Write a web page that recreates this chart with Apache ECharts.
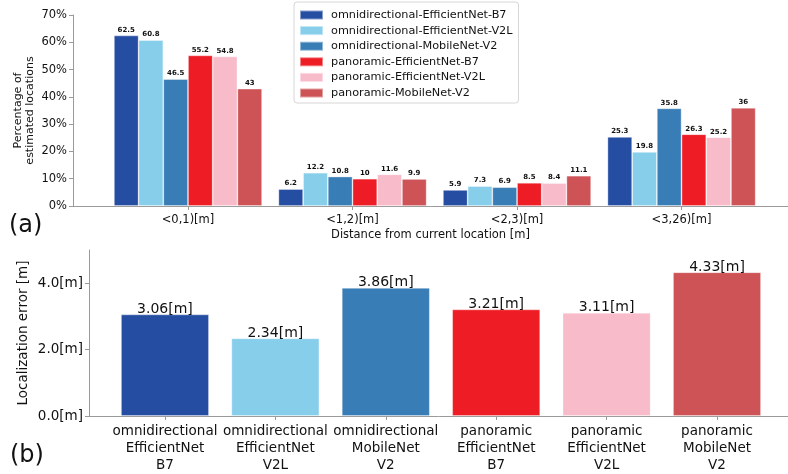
<!DOCTYPE html>
<html>
<head>
<meta charset="utf-8">
<script src="https://cdn.jsdelivr.net/npm/echarts@6/dist/echarts.min.js"></script>
<style>
  html, body { margin: 0; padding: 0; background: #fff; }
  #chart { width: 788px; height: 474px; }
</style>
</head>
<body>
<div id="chart"></div>
<script>
// Distance bins for panel (a)
const distanceBins = ['<0,1)[m]', '<1,2)[m]', '<2,3)[m]', '<3,26)[m]'];

// Model names (legend) and colours
const modelNames = [
  'omnidirectional-EfficientNet-B7',
  'omnidirectional-EfficientNet-V2L',
  'omnidirectional-MobileNet-V2',
  'panoramic-EfficientNet-B7',
  'panoramic-EfficientNet-V2L',
  'panoramic-MobileNet-V2'
];
const modelColors = ['#254ea2', '#87ceeb', '#387db5', '#ed1c25', '#f7bbc9', '#cd5357'];

// Percentage of estimated locations per distance bin
const omniB7   = [62.5, 6.2, 5.9, 25.3];
const omniV2L  = [60.8, 12.2, 7.3, 19.8];
const omniMob  = [46.5, 10.8, 6.9, 35.8];
const panoB7   = [55.2, 10, 8.5, 26.3];
const panoV2L  = [54.8, 11.6, 8.4, 25.2];
const panoMob  = [43, 9.9, 11.1, 36];
const percentSeries = [omniB7, omniV2L, omniMob, panoB7, panoV2L, panoMob];

// Panel (b): mean localization error per model
const errorLabels = [
  'omnidirectional\nEfficientNet\nB7',
  'omnidirectional\nEfficientNet\nV2L',
  'omnidirectional\nMobileNet\nV2',
  'panoramic\nEfficientNet\nB7',
  'panoramic\nEfficientNet\nV2L',
  'panoramic\nMobileNet\nV2'
];
const errorValues = [3.06, 2.34, 3.86, 3.21, 3.11, 4.33];

// Tick values
const percentTicks = [0, 10, 20, 30, 40, 50, 60, 70];
const errorTicks = [0, 2, 4];

const FONT = 'DejaVu Sans';
const AXIS_GRAY = '#9a9a9a';

const chart = echarts.init(document.getElementById('chart'), null, { renderer: 'canvas' });

const topSeries = percentSeries.map((vals, k) => ({
  name: modelNames[k],
  type: 'bar',
  xAxisIndex: 0,
  yAxisIndex: 0,
  barWidth: 24.7,
  barGap: '0%',
  data: vals.map((v, i) => [i, v]),
  itemStyle: { color: modelColors[k], borderColor: 'rgba(255,255,255,0.45)', borderWidth: 0.8 },
  label: {
    show: true,
    position: 'top',
    distance: 2,
    formatter: p => String(p.value[1]),
    fontFamily: FONT,
    fontSize: 7,
    fontWeight: 'bold',
    color: '#111'
  },
  emphasis: { disabled: true },
  animation: false
}));

const bottomSeries = {
  name: 'error',
  type: 'bar',
  xAxisIndex: 1,
  yAxisIndex: 1,
  barWidth: 88,
  data: errorValues.map((v, i) => ({
    value: [i, v],
    itemStyle: { color: modelColors[i], borderColor: 'rgba(255,255,255,0.45)', borderWidth: 0.8 }
  })),
  label: {
    show: true,
    position: 'top',
    distance: -2,
    formatter: p => p.value[1].toFixed(2) + '[m]',
    fontFamily: FONT,
    fontSize: 14,
    color: '#111'
  },
  emphasis: { disabled: true },
  animation: false
};

const option = {
  backgroundColor: '#fff',
  animation: false,
  grid: [
    { left: 73, top: 15, right: 0, bottom: 268, containLabel: false },
    { left: 89, top: 250, right: 0, bottom: 54, containLabel: false }
  ],
  legend: {
    data: modelNames,
    orient: 'vertical',
    left: 294,
    top: 2,
    padding: [6, 6, 3, 5],
    itemWidth: 23,
    itemHeight: 9,
    itemGap: 1.6,
    backgroundColor: '#fff',
    borderColor: '#d6d6d6',
    borderWidth: 1,
    borderRadius: 3,
    icon: 'rect',
    selectedMode: false,
    textStyle: { fontFamily: FONT, fontSize: 11.25, color: '#111', lineHeight: 14, padding: [0, 0, 0, 3] }
  },
  xAxis: [
    {
      type: 'value',
      gridIndex: 0,
      min: -0.699,
      max: 3.647,
      splitLine: { show: false },
      axisLine: { show: true, onZero: false, lineStyle: { color: AXIS_GRAY, width: 1 } },
      axisTick: { show: true, length: 4, customValues: [0, 1, 2, 3], lineStyle: { color: AXIS_GRAY } },
      axisLabel: {
        customValues: [0, 1, 2, 3],
        formatter: v => distanceBins[Math.round(v)] || '',
        fontFamily: FONT, fontSize: 11.5, color: '#111', margin: 8
      },
      name: 'Distance from current location [m]',
      nameLocation: 'middle',
      nameGap: 23,
      nameMoveOverlap: false,
      nameTextStyle: { fontFamily: FONT, fontSize: 11.5, color: '#111' }
    },
    {
      type: 'value',
      gridIndex: 1,
      min: -0.688,
      max: 5.643,
      splitLine: { show: false },
      axisLine: { show: true, onZero: false, lineStyle: { color: AXIS_GRAY, width: 1 } },
      axisTick: { show: true, length: 4, customValues: [0, 1, 2, 3, 4, 5], lineStyle: { color: AXIS_GRAY } },
      axisLabel: {
        customValues: [0, 1, 2, 3, 4, 5],
        formatter: v => errorLabels[Math.round(v)] || '',
        fontFamily: FONT, fontSize: 13.5, lineHeight: 17, color: '#111', margin: 7
      }
    }
  ],
  yAxis: [
    {
      type: 'value',
      gridIndex: 0,
      min: 0,
      max: 70,
      interval: 10,
      splitLine: { show: false },
      axisLine: { show: true, onZero: false, lineStyle: { color: AXIS_GRAY, width: 1 } },
      axisTick: { show: true, length: 4, customValues: percentTicks, lineStyle: { color: AXIS_GRAY } },
      axisLabel: {
        customValues: percentTicks,
        formatter: v => v + '%',
        fontFamily: FONT, fontSize: 11.5, color: '#111', margin: 6
      },
      name: 'Percentage of\nestimated locations',
      nameLocation: 'middle',
      nameRotate: 90,
      nameGap: 37,
      nameMoveOverlap: false,
      nameTextStyle: { fontFamily: FONT, fontSize: 11, lineHeight: 12, color: '#111' }
    },
    {
      type: 'value',
      gridIndex: 1,
      min: 0,
      max: 5,
      splitLine: { show: false },
      axisLine: { show: true, onZero: false, lineStyle: { color: AXIS_GRAY, width: 1 } },
      axisTick: { show: true, length: 4, customValues: errorTicks, lineStyle: { color: AXIS_GRAY } },
      axisLabel: {
        customValues: errorTicks,
        formatter: v => v.toFixed(1) + '[m]',
        fontFamily: FONT, fontSize: 13.5, color: '#111', margin: 6
      },
      name: 'Localization error [m]',
      nameLocation: 'middle',
      nameRotate: 90,
      nameGap: 59,
      nameMoveOverlap: false,
      nameTextStyle: { fontFamily: FONT, fontSize: 13.5, color: '#111' }
    }
  ],
  graphic: [
    { type: 'text', left: 9, top: 214, style: { text: '(a)', font: '24px "DejaVu Sans"', fill: '#111' } },
    { type: 'text', left: 10, top: 444, style: { text: '(b)', font: '24px "DejaVu Sans"', fill: '#111' } }
  ],
  series: topSeries.concat([bottomSeries])
};

chart.setOption(option);
</script>
</body>
</html>
